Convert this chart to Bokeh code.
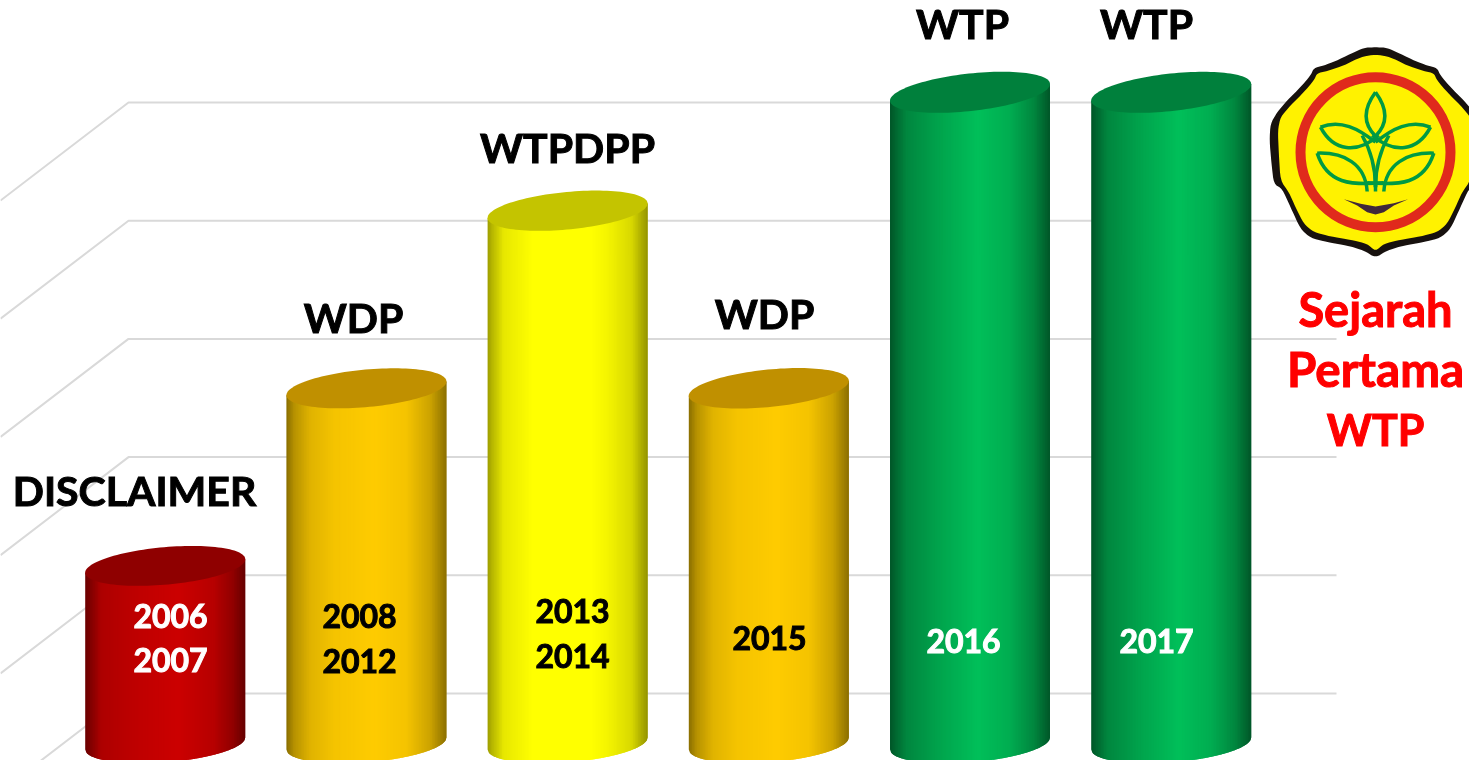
import numpy as np
from bokeh.plotting import figure
from bokeh.models import Range1d
from bokeh.core.properties import value
from bokeh.embed import file_html
from bokeh.resources import INLINE

# ---- data ----
opinions = ["DISCLAIMER", "WDP", "WTPDPP", "WDP", "WTP", "WTP"]
levels = [1.5, 3.0, 4.5, 3.0, 5.5, 5.5]
years = [["2006", "2007"], ["2008", "2012"], ["2013", "2014"], ["2015"], ["2016"], ["2017"]]
year_colors = ["white", "black", "black", "black", "white", "white"]
side_colors = [(204, 0, 0), (255, 204, 0), (255, 255, 0), (255, 204, 0), (0, 192, 90), (0, 192, 90)]
cap_colors = ["#8f0000", "#c09000", "#c4c400", "#c09000", "#00803c", "#00803c"]
wall_levels = [0, 1, 2, 3, 4, 5]
note_lines = ["Sejarah", "Pertama", "WTP"]

# ---- scale: pixels per category step / per level ----
W, H = 1469, 760
SX, SY = 201.2, 118.4
X0, Y0 = 164.7, 743.0


def dx(px):
    return (px - X0) / SX


def dy(py):
    return (Y0 - py) / SY


p = figure(width=W, height=H, output_backend="svg", toolbar_location=None,
           x_range=Range1d(dx(0), dx(W)), y_range=Range1d(dy(H), dy(0)),
           min_border=0, min_border_left=0, min_border_right=0, min_border_top=0, min_border_bottom=0,
           styles={"position": "fixed", "left": "0px", "top": "0px"})
p.axis.visible = False
p.grid.visible = False
p.outline_line_color = None
p.background_fill_color = "white"
p.border_fill_color = "white"

WALL_Y0, WALL_SY = 693.0, 118.2
p.extra_y_ranges["wall"] = Range1d((WALL_Y0 - H) / WALL_SY, WALL_Y0 / WALL_SY)

# back wall and side wall lines
wall_xs, wall_ys = [], []
for L in wall_levels:
    leg = 128 / WALL_SY * 0.766
    wall_xs.append([dx(0), dx(128), dx(1336)])
    wall_ys.append([L - leg, L, L])
p.multi_line(wall_xs, wall_ys, y_range_name="wall", line_color="#d9d9d9", line_width=2)

# cylinders
RX = 80.0
TILT_TOP = [0.084, 0.086, 0.09, 0.094, 0.104, 0.103]
TILT_BOT = 0.075
H_E = 18.8
N = 100
shades = {
    (204, 0, 0): ([0, .1, .3, .58, .8, .92, 1], [.52, .85, .93, 1, .9, .72, .5]),
    (255, 204, 0): ([0, .05, .15, .3, .55, .75, .9, 1], [.54, .72, .88, .96, 1, .96, .8, .55]),
    (255, 255, 0): ([0, .03, .1, .28, .65, .75, .9, 1], [.62, .72, .91, 1, 1, .96, .85, .58]),
    (0, 192, 90): ([0, .1, .3, .55, .75, .9, 1], [.45, .7, .85, 1, .9, .7, .45]),
}

for i, (lv, base, cap) in enumerate(zip(levels, side_colors, cap_colors)):
    us = np.linspace(-RX, RX, N + 1)
    stops_t, stops_f = shades[base]
    xs, ys, cols = [], [], []
    for j in range(N):
        # each strip overlaps the next: no seams between strips
        u0, u1 = us[j], us[min(j + 2, N)]
        t = (j + 0.5) / N
        f = np.interp(t, stops_t, stops_f)
        cols.append("#%02x%02x%02x" % tuple(int(c * f) for c in base))
        uu = np.linspace(u0, u1, 4)
        bottom = -(-TILT_BOT * uu + H_E * np.sqrt(np.clip(1 - (uu / RX) ** 2, 0, 1))) / SY
        top = lv + (TILT_TOP[i] * uu) / SY
        xs.append(list(i + uu / SX) + list(i + uu[::-1] / SX))
        ys.append(list(bottom) + list(top[::-1]))
    p.patches(xs, ys, fill_color=cols, line_color=None)
    th = np.linspace(0, 2 * np.pi, 120)
    cu = RX * np.cos(th)
    cy_off = TILT_TOP[i] * cu + H_E * np.sin(th)
    p.patch(i + cu / SX, lv + cy_off / SY, fill_color=cap, line_color=None)

FONT = value("Lato")
# opinion labels above the bars
lab_px = [134, 353, 567, 764, 962, 1146]
lab_py = [490, 317, 147, 313, 23, 23]
p.text([dx(v) for v in lab_px], [dy(v) for v in lab_py], text=opinions,
       text_font=FONT, text_font_style="bold", text_font_size="41px",
       text_color="black", text_outline_color="black", text_align="center", text_baseline="middle")

# year labels on the bars
yr_px = [170, 359, 572, 769, 963, 1156]
yr_py = [[615, 659], [615, 660], [610, 655], [637], [640], [640]]
for yrs, col, xp, yps in zip(years, year_colors, yr_px, yr_py):
    p.text([dx(xp)] * len(yrs), [dy(v) for v in yps], text=yrs,
           text_font=FONT, text_font_style="bold", text_font_size="32px",
           text_color=col, text_outline_color=col, text_align="center", text_baseline="middle")

# note
for line, py, size in zip(note_lines, [308, 368, 429], ["47px", "47.5px", "43px"]):
    p.text([dx(1375)], [dy(py)], text=[line],
           text_font=FONT, text_font_style="bold", text_font_size=size,
           text_color="#ff0000", text_outline_color="#ff0000", text_align="center", text_baseline="middle")


# ---- emblem, sketched in crop coordinates (3x, origin 1260,40) ----
def zx(v):
    return dx(1260 + np.asarray(v, dtype=float) / 3)


def zy(v):
    return dy(40 + np.asarray(v, dtype=float) / 3)


def chaikin(x, y, n=2):
    x, y = np.asarray(x, dtype=float), np.asarray(y, dtype=float)
    for _ in range(n):
        xn, yn = np.roll(x, -1), np.roll(y, -1)
        x = np.ravel(np.column_stack([.8 * x + .2 * xn, .2 * x + .8 * xn]))
        y = np.ravel(np.column_stack([.8 * y + .2 * yn, .2 * y + .8 * yn]))
    return x, y


def mirrored(hx, hy):
    return hx + [690 - v for v in hx[-2:0:-1]], hy + hy[-2:0:-1]


outer_x = [345, 310, 270, 225, 190, 160, 150, 120, 80, 50, 30, 27, 33, 40, 65, 90, 120, 150, 200, 260, 310, 345]
outer_y = [20, 22, 40, 62, 75, 83, 105, 140, 180, 215, 250, 300, 370, 430, 445, 500, 565, 592, 605, 615, 630, 652]
inner_x = [345, 300, 250, 200, 170, 160, 130, 90, 60, 52, 55, 60, 85, 105, 130, 160, 210, 270, 320, 345]
inner_y = [42, 50, 75, 92, 98, 120, 155, 195, 230, 270, 340, 420, 455, 500, 550, 575, 588, 598, 610, 632]
p.patch(*[f(v) for f, v in zip((zx, zy), chaikin(*mirrored(outer_x, outer_y)))], fill_color="#17110e", line_color=None)
p.patch(*[f(v) for f, v in zip((zx, zy), chaikin(*mirrored(inner_x, inner_y)))], fill_color="#fff200", line_color=None)

p.scatter([zx(345)], [zy(335)], marker="circle", size=150, fill_color=None,
          line_color="#e02a1c", line_width=10)

GREEN = "#009a44"


def curve(x0, y0, x1, y1, x2, y2, x3, y3):
    p.bezier(x0=[zx(x0)], y0=[zy(y0)], x1=[zx(x3)], y1=[zy(y3)],
             cx0=[zx(x1)], cy0=[zy(y1)], cx1=[zx(x2)], cy1=[zy(y2)],
             line_color=GREEN, line_width=3.5)


for m in (lambda v: v, lambda v: 690 - v):
    curve(m(345), 155, m(308), 205, m(308), 250, m(345), 287)              # top leaf
    curve(m(180), 260, m(240), 235, m(295), 265, m(345), 305)              # upper leaf, top edge
    curve(m(180), 260, m(220), 335, m(290), 340, m(355), 285)              # upper leaf, bottom edge
    curve(m(305), 285, m(325), 320, m(345), 370, m(345), 440)              # inner stem
    curve(m(170), 338, m(250), 335, m(315), 370, m(320), 453)              # lower leaf, top edge
    curve(m(170), 338, m(200), 430, m(270), 435, m(370), 427)              # lower leaf, bottom edge
p.segment([zx(345)], [zy(395)], [zx(345)], [zy(453)], line_color=GREEN, line_width=3.5)

mouth_x = [250, 300, 345, 400, 443, 400, 370, 345, 320, 290]
mouth_y = [476, 490, 498, 488, 476, 495, 515, 522, 515, 495]
p.patch(zx(mouth_x), zy(mouth_y), fill_color="#40283a", line_color=None)

open("out.html", "w").write(file_html(p, INLINE))
